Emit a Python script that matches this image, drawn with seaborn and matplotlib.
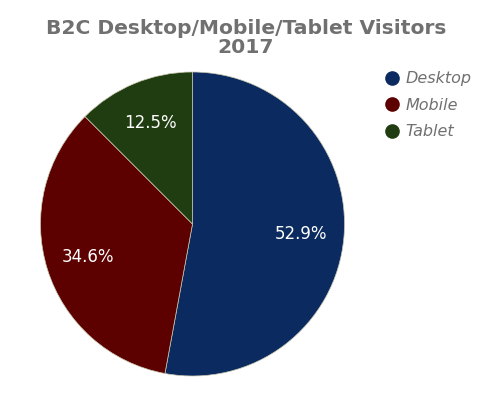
import matplotlib
matplotlib.use("Agg")
import matplotlib.pyplot as plt
import seaborn as sns
from matplotlib.lines import Line2D

categories = ["Desktop", "Mobile", "Tablet"]
values = [52.9, 34.6, 12.5]
colors = ["#0b2a5f", "#5c0000", "#1f3d10"]
title = "B2C Desktop/Mobile/Tablet Visitors\n2017"

sns.set_theme(style="white")
plt.rcParams['font.family'] = ['DejaVu Sans']

fig = plt.figure(figsize=(4.92, 3.96), dpi=100)
fig.patch.set_facecolor("white")
W, H = 492, 396
cx, cy, r = 192.5, 224, 152
ax = fig.add_axes([(cx - r) / W, (H - cy - r) / H, 2 * r / W, 2 * r / H])

wedges, texts, autotexts = ax.pie(
    values, colors=colors, startangle=90, counterclock=False,
    autopct=lambda p: f"{p:.1f}%", pctdistance=0.72, radius=1,
    wedgeprops=dict(edgecolor="#c8c8b0", linewidth=0.5),
    textprops=dict(color="white", fontsize=12))
ax.set_xlim(-1, 1)
ax.set_ylim(-1, 1)
ax.set_aspect("equal")

fig.text(0.5, 1 - 38 / H, title, ha="center", va="center",
         fontsize=14.6, fontweight="bold", color="#707070", linespacing=1.0)

handles = [Line2D([0], [0], marker="o", linestyle="none", markersize=9.5,
                  markerfacecolor=c, markeredgecolor=c) for c in colors]
leg = fig.legend(handles, categories, loc="upper left",
                 bbox_to_anchor=(371 / W, 1 - 57 / H), frameon=False,
                 handlelength=0.8, handletextpad=0.45, labelspacing=0.72,
                 prop=dict(size=11.5, style="italic"))
for t in leg.get_texts():
    t.set_color("#707070")

fig.savefig("out.png", dpi=100, facecolor="white")
